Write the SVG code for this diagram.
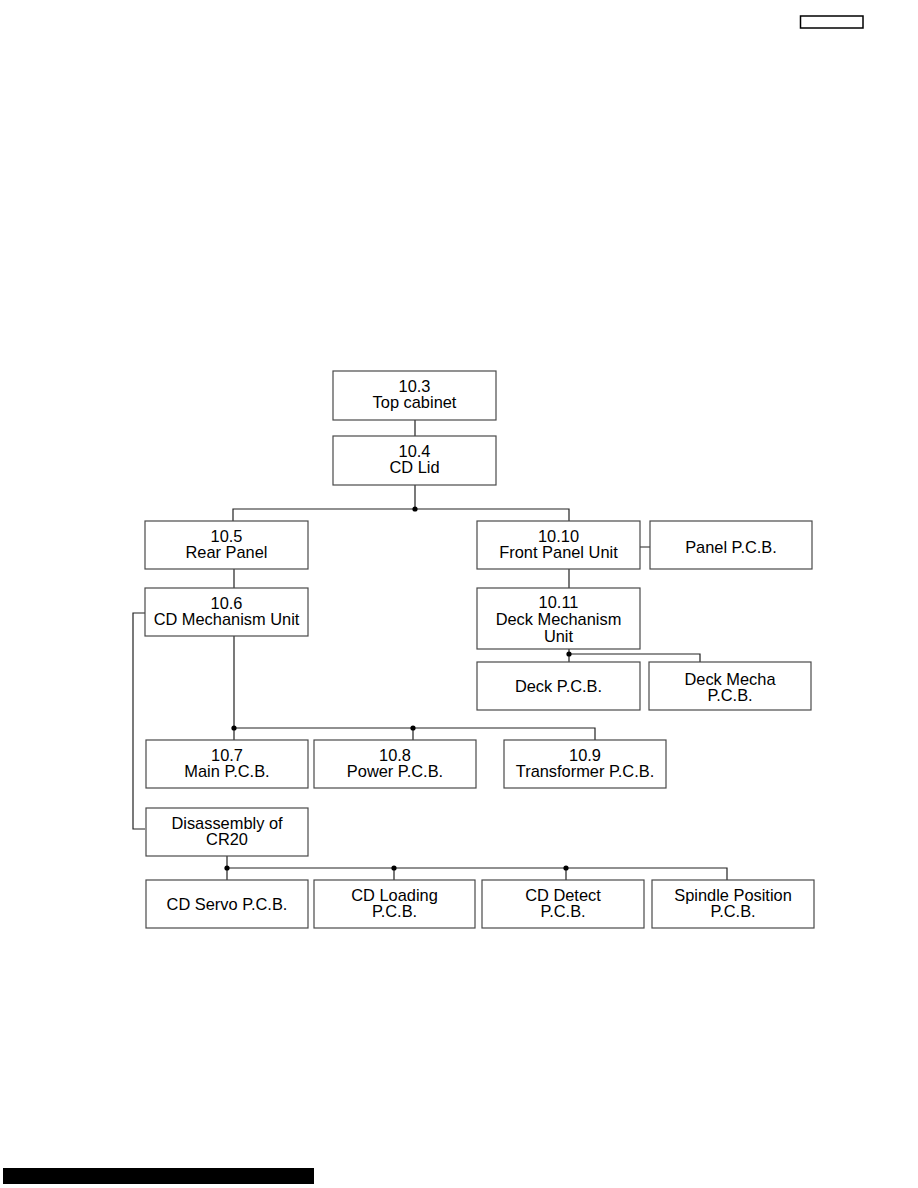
<svg xmlns="http://www.w3.org/2000/svg" width="918" height="1188" viewBox="0 0 918 1188">
<style>
.box{fill:#fff;stroke:#4a4a4a;stroke-width:1.2}
.ln{fill:none;stroke:#222;stroke-width:1.2}
.dot{fill:#000}
text{font-family:"Liberation Sans",Arial,sans-serif;font-size:16.4px;fill:#000;text-anchor:middle}
</style>
<rect width="918" height="1188" fill="#fff"/>
<rect x="800.5" y="16" width="62.5" height="12" fill="#fff" stroke="#000" stroke-width="1.5"/>
<rect x="3" y="1168" width="311" height="16" fill="#000"/>
<g id="connectors">
<path class="ln" d="M415 420V436M415 485V509M233 521V509H569V521M640 547H650M569 569V588M569 649V662M569 654H700V662M234 569V588M234 636V740M234 728H595V740M413 728V740M145 613H133V829H145M227 856V880M227 868H727V880M394 868V880M566 868V880"/>
<circle class="dot" cx="415" cy="509" r="2.6"/>
<circle class="dot" cx="569" cy="654" r="2.6"/>
<circle class="dot" cx="234" cy="728" r="2.6"/>
<circle class="dot" cx="413" cy="728" r="2.6"/>
<circle class="dot" cx="227" cy="868" r="2.6"/>
<circle class="dot" cx="394" cy="868" r="2.6"/>
<circle class="dot" cx="566" cy="868" r="2.6"/>
</g>
<g id="n103"><rect class="box" x="333" y="371" width="163" height="49"/><text x="414.5" y="392">10.3</text><text x="414.5" y="408">Top cabinet</text></g>
<g id="n104"><rect class="box" x="333" y="436" width="163" height="49"/><text x="414.5" y="457">10.4</text><text x="414.5" y="473">CD Lid</text></g>
<g id="n105"><rect class="box" x="145" y="521" width="163" height="48"/><text x="226.5" y="542">10.5</text><text x="226.5" y="558">Rear Panel</text></g>
<g id="n106"><rect class="box" x="145" y="588" width="163" height="48"/><text x="226.5" y="609">10.6</text><text x="226.5" y="625">CD Mechanism Unit</text></g>
<g id="n1010"><rect class="box" x="477" y="521" width="163" height="48"/><text x="558.5" y="542">10.10</text><text x="558.5" y="558">Front Panel Unit</text></g>
<g id="panel"><rect class="box" x="650" y="521" width="162" height="48"/><text x="731" y="553">Panel P.C.B.</text></g>
<g id="n1011"><rect class="box" x="477" y="588" width="163" height="61"/><text x="558.5" y="608">10.11</text><text x="558.5" y="625">Deck Mechanism</text><text x="558.5" y="642">Unit</text></g>
<g id="deck"><rect class="box" x="477" y="662" width="163" height="48"/><text x="558.5" y="692">Deck P.C.B.</text></g>
<g id="deckmecha"><rect class="box" x="649" y="662" width="162" height="48"/><text x="730" y="685">Deck Mecha</text><text x="730" y="701">P.C.B.</text></g>
<g id="n107"><rect class="box" x="146" y="740" width="162" height="48"/><text x="227" y="761">10.7</text><text x="227" y="777">Main P.C.B.</text></g>
<g id="n108"><rect class="box" x="314" y="740" width="162" height="48"/><text x="395" y="761">10.8</text><text x="395" y="777">Power P.C.B.</text></g>
<g id="n109"><rect class="box" x="504" y="740" width="162" height="48"/><text x="585" y="761">10.9</text><text x="585" y="777">Transformer P.C.B.</text></g>
<g id="cr20"><rect class="box" x="146" y="808" width="162" height="48"/><text x="227" y="829">Disassembly of</text><text x="227" y="845">CR20</text></g>
<g id="servo"><rect class="box" x="146" y="880" width="162" height="48"/><text x="227" y="910">CD Servo P.C.B.</text></g>
<g id="loading"><rect class="box" x="314" y="880" width="161" height="48"/><text x="394.5" y="901">CD Loading</text><text x="394.5" y="917">P.C.B.</text></g>
<g id="detect"><rect class="box" x="482" y="880" width="162" height="48"/><text x="563" y="901">CD Detect</text><text x="563" y="917">P.C.B.</text></g>
<g id="spindle"><rect class="box" x="652" y="880" width="162" height="48"/><text x="733" y="901">Spindle Position</text><text x="733" y="917">P.C.B.</text></g>
</svg>
